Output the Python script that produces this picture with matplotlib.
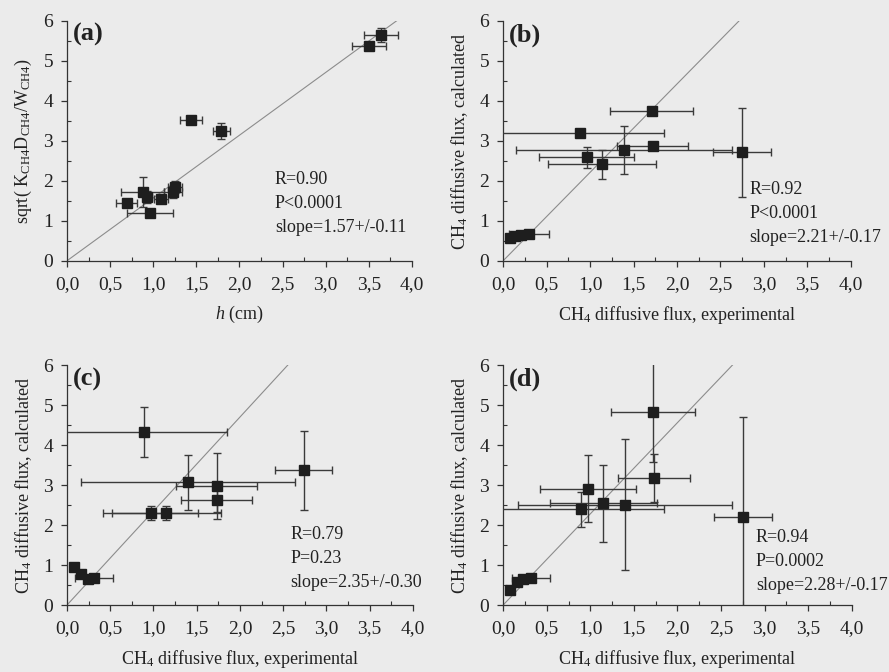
# Four panels: CH4 fluxes, measured vs calculated
import numpy as np
import matplotlib
matplotlib.use("Agg")
import matplotlib.pyplot as plt
from matplotlib.ticker import MultipleLocator, FuncFormatter

plt.rcParams['font.family'] = ['Liberation Serif', 'DejaVu Serif']
plt.rcParams['mathtext.fontset'] = 'custom'
plt.rcParams['mathtext.rm'] = 'Liberation Serif'
plt.rcParams['mathtext.it'] = 'Liberation Serif:italic'
plt.rcParams['mathtext.bf'] = 'Liberation Serif:bold'

# ---- data ----
a_x = [3.50, 3.64, 1.44, 1.79, 0.88, 0.93, 0.69, 0.96, 1.09, 1.23, 1.25]
a_y = [5.37, 5.64, 3.52, 3.24, 1.72, 1.60, 1.45, 1.19, 1.55, 1.72, 1.84]
a_xerr = [0.20, 0.20, 0.13, 0.10, 0.25, 0.05, 0.12, 0.27, 0.08, 0.10, 0.08]
a_yerr = [0.08, 0.17, 0.05, 0.20, 0.38, 0.15, 0.05, 0.05, 0.08, 0.15, 0.15]

b_x = [1.71, 0.88, 1.72, 1.39, 2.75, 0.96, 1.14, 0.08, 0.14, 0.20, 0.30]
b_y = [3.75, 3.20, 2.87, 2.77, 2.71, 2.59, 2.41, 0.58, 0.62, 0.64, 0.68]
b_xerr = [0.48, 0.97, 0.41, 1.24, 0.33, 0.55, 0.62, 0.02, 0.03, 0.04, 0.23]
b_yerr = [0.05, 0.05, 0.05, 0.60, 1.12, 0.26, 0.36, 0.03, 0.03, 0.03, 0.03]

c_x = [0.89, 2.74, 1.40, 1.73, 1.73, 0.97, 1.15, 0.08, 0.16, 0.24, 0.31]
c_y = [4.32, 3.37, 3.07, 2.97, 2.63, 2.30, 2.30, 0.95, 0.77, 0.65, 0.67]
c_xerr = [0.96, 0.33, 1.24, 0.47, 0.41, 0.55, 0.63, 0.02, 0.03, 0.03, 0.22]
c_yerr = [0.62, 0.99, 0.69, 0.82, 0.30, 0.17, 0.17, 0.05, 0.05, 0.05, 0.05]

d_x = [1.72, 1.73, 0.97, 1.15, 1.40, 0.89, 2.75, 0.08, 0.16, 0.23, 0.32]
d_y = [4.82, 3.17, 2.91, 2.54, 2.51, 2.39, 2.20, 0.37, 0.57, 0.65, 0.68]
d_xerr = [0.48, 0.41, 0.55, 0.61, 1.23, 0.96, 0.33, 0.02, 0.03, 0.03, 0.22]
d_yerr = [1.25, 0.60, 0.83, 0.97, 1.63, 0.43, 2.49, 0.05, 0.05, 0.05, 0.05]

slopes = [1.57, 2.21, 2.35, 2.28]
panel_labels = ['(a)', '(b)', '(c)', '(d)']
stats = [['R=0.90', 'P<0.0001', 'slope=1.57+/-0.11'],
         ['R=0.92', 'P<0.0001', 'slope=2.21+/-0.17'],
         ['R=0.79', 'P=0.23', 'slope=2.35+/-0.30'],
         ['R=0.94', 'P=0.0002', 'slope=2.28+/-0.17']]
stats_xy = [(2.41, 2.02), (2.83, 1.77), (2.58, 1.77), (2.90, 1.70)]
xlabels = [r'$\it{h}$ (cm)'] + [r'CH$_4$ diffusive flux, experimental'] * 3
ylabels = [r'sqrt( K$_{\mathrm{CH4}}$D$_{\mathrm{CH4}}$/W$_{\mathrm{CH4}}$)'] + \
          [r'CH$_4$ diffusive flux, calculated'] * 3

xs = [a_x, b_x, c_x, d_x]
ys = [a_y, b_y, c_y, d_y]
xerrs = [a_xerr, b_xerr, c_xerr, d_xerr]
yerrs = [a_yerr, b_yerr, c_yerr, d_yerr]

bg = '#ebebeb'
fig = plt.figure(figsize=(8.89, 6.72), dpi=100, facecolor=bg)

# axes boxes in figure fractions (left, bottom, width, height)
boxes = [(0.0754, 0.612, 0.388, 0.357),
         (0.566, 0.612, 0.391, 0.357),
         (0.0754, 0.0997, 0.389, 0.357),
         (0.566, 0.0997, 0.392, 0.357)]

comma = FuncFormatter(lambda v, p: ('%.1f' % v).replace('.', ','))

for i in range(4):
    ax = fig.add_axes(boxes[i], facecolor=bg)
    ax.set_xlim(0, 4)
    ax.set_ylim(0, 6)
    for s in ['top', 'right']:
        ax.spines[s].set_visible(False)
    for s in ['left', 'bottom']:
        ax.spines[s].set_color('#333333')
        ax.spines[s].set_linewidth(0.9)

    # regression line through origin
    lx = np.linspace(0, 4, 50)
    ax.plot(lx, slopes[i] * lx, color='#8c8c8c', lw=0.8, zorder=1)

    ax.errorbar(xs[i], ys[i], xerr=xerrs[i], yerr=yerrs[i], fmt='s',
                color='#1e1e1e', ecolor='#3a3a3a', elinewidth=1.0,
                capsize=3, capthick=1.0, markersize=7.5, zorder=3,
                clip_on=True)

    ax.xaxis.set_major_locator(MultipleLocator(0.5))
    ax.xaxis.set_minor_locator(MultipleLocator(0.25))
    ax.yaxis.set_major_locator(MultipleLocator(1))
    ax.yaxis.set_minor_locator(MultipleLocator(0.5))
    ax.xaxis.set_major_formatter(comma)
    ax.tick_params(which='major', direction='out', length=4, width=0.9,
                   color='#333333', labelsize=14, labelcolor='#222222')
    ax.tick_params(axis='x', which='major', pad=7)
    ax.tick_params(axis='y', which='major', pad=6)
    ax.tick_params(which='minor', direction='in', length=3, width=0.8,
                   color='#333333')

    ax.set_xlabel(xlabels[i], fontsize=13, color='#222222', labelpad=8)
    ax.set_ylabel(ylabels[i], fontsize=13, color='#222222', labelpad=7)

    ax.text(0.07, 5.65, panel_labels[i], fontsize=19, fontweight='bold',
            color='#222222', va='center', ha='left')
    sx, sy = stats_xy[i]
    for k, line in enumerate(stats[i]):
        ax.text(sx, sy - k * 0.6, line, fontsize=13, color='#222222',
                va='center', ha='left')

fig.savefig('out.png', dpi=100, facecolor=bg)
